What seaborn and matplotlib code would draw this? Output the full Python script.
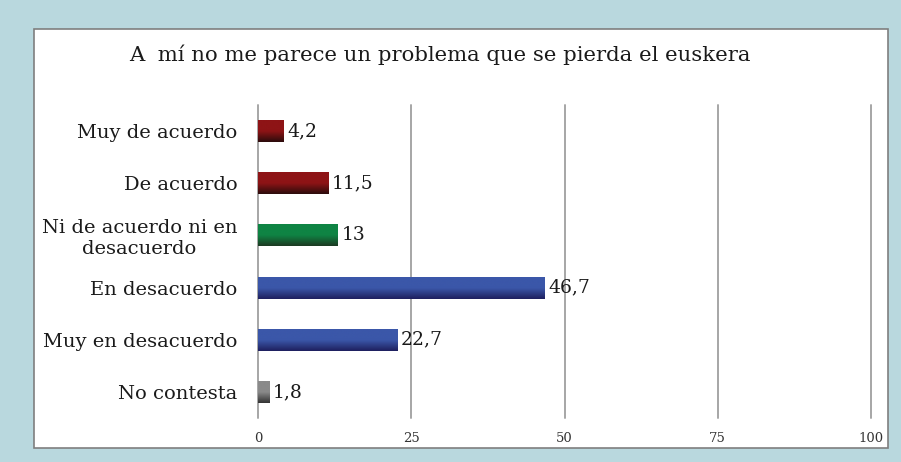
import matplotlib
matplotlib.use("Agg")
import matplotlib.pyplot as plt
from matplotlib.patches import Rectangle
import numpy as np
import pandas as pd
import seaborn as sns

categorias = ["Muy de acuerdo", "De acuerdo", "Ni de acuerdo ni en\ndesacuerdo",
              "En desacuerdo", "Muy en desacuerdo", "No contesta"]
valores = [4.2, 11.5, 13, 46.7, 22.7, 1.8]
etiquetas = ["4,2", "11,5", "13", "46,7", "22,7", "1,8"]
ticks = [0, 25, 50, 75, 100]

# colores (arriba, abajo) del degradado de cada barra
rojo = ("#8e1416", "#2b0c0c")
verde = ("#0f8444", "#1c3a22")
azul = ("#3b57a9", "#1e1f5e")
gris = ("#8a8a8a", "#333333")
colores = [rojo, rojo, verde, azul, azul, gris]

sns.set_theme(style="white")
plt.rcParams['font.family'] = ['DejaVu Serif']

fig = plt.figure(figsize=(9.01, 4.62), dpi=100)
fig.patch.set_facecolor("#b9d8de")
W, H = 901, 462
fig.patches.append(Rectangle((34 / W, 1 - 448 / H), (888 - 34) / W, (448 - 29) / H,
                             transform=fig.transFigure, facecolor="white",
                             edgecolor="#7f7f7f", linewidth=1.2, zorder=-5))

ax = fig.add_axes([258 / W, 1 - 418 / H, (871 - 258) / W, (418 - 105) / H])
ax.set_facecolor("none")

df = pd.DataFrame({"cat": categorias, "val": valores})
sns.barplot(data=df, x="val", y="cat", ax=ax, width=0.42,
            palette=[c[0] for c in colores], hue="cat", legend=False)

for t in ticks:
    ax.axvline(t, color="#a6a6a6", lw=1.4, zorder=0, clip_on=False)

# degradado vertical en cada barra
for bar, (c1, c2) in zip(ax.patches, colores):
    x0, y0 = bar.get_x(), bar.get_y()
    w, h = bar.get_width(), bar.get_height()
    cmap = matplotlib.colors.LinearSegmentedColormap.from_list("g", [c1, c1, c2])
    grad = np.linspace(0, 1, 64).reshape(-1, 1)
    im = ax.imshow(grad, cmap=cmap, aspect="auto", extent=[x0, x0 + w, y0 + h, y0],
                   zorder=3, interpolation="bicubic")
    im.set_clip_path(bar)
    bar.set_edgecolor("none")

ax.set_xlim(0, 100)
ax.set_ylim(5.5, -0.5)

for i, (v, lab) in enumerate(zip(valores, etiquetas)):
    ax.text(v + 0.6, i, lab, va="center", ha="left", fontsize=13.5, color="#1a1a1a")

ax.set_xticks(ticks)
ax.set_xticklabels([str(t) for t in ticks], fontsize=9.5, color="#333333")
ax.set_yticks(range(len(categorias)))
ax.set_yticklabels(categorias, fontsize=14, color="#1a1a1a", multialignment="center")
ax.tick_params(axis="y", length=0, pad=15)
ax.tick_params(axis="x", length=0, pad=10)
ax.set_xlabel("")
ax.set_ylabel("")
for s in ax.spines.values():
    s.set_visible(False)

fig.text(440 / W, 1 - 55 / H, "A  mí no me parece un problema que se pierda el euskera",
         ha="center", va="center", fontsize=15.3, color="#1a1a1a")

fig.savefig("out.png", dpi=100, facecolor=fig.get_facecolor())
